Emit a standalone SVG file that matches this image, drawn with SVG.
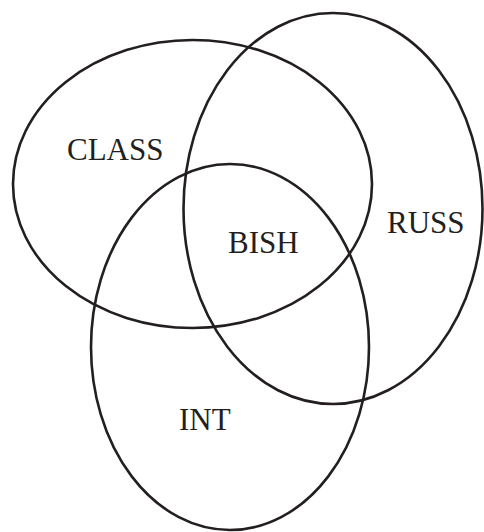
<svg xmlns="http://www.w3.org/2000/svg" width="484" height="532" viewBox="0 0 484 532">
<style>
.e{fill:none;stroke:#231f20;stroke-width:2.6}
.t{font-family:"Liberation Serif","Times New Roman",serif;font-size:31px;fill:#231f20}
</style>
<rect width="484" height="532" fill="#fff"/>
<g id="class"><ellipse class="e" cx="192.5" cy="184" rx="179.5" ry="144"/><text class="t" x="67" y="160">CLASS</text></g>
<g id="russ"><ellipse class="e" cx="333" cy="208.5" rx="149.5" ry="195.5"/><text class="t" x="387" y="233">RUSS</text></g>
<g id="int"><ellipse class="e" cx="230" cy="347" rx="139" ry="183"/><text class="t" x="179" y="430">INT</text></g>
<g id="bish"><text class="t" x="228" y="253">BISH</text></g>
<g id="connectors"/>
</svg>
